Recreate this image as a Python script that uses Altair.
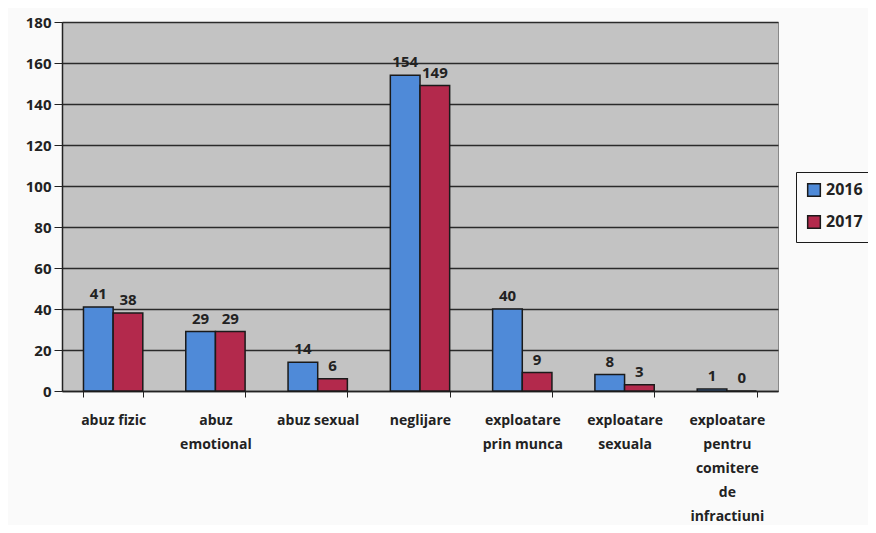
import altair as alt
import pandas as pd

categories = ["abuz fizic", "abuz|emotional", "abuz sexual", "neglijare",
              "exploatare|prin munca", "exploatare|sexuala",
              "exploatare|pentru|comitere|de|infractiuni"]
years = ["2016", "2017"]
values_2016 = [41, 29, 14, 154, 40, 8, 1]
values_2017 = [38, 29, 6, 149, 9, 3, 0]
y_ticks = [0, 20, 40, 60, 80, 100, 120, 140, 160, 180]

rows = []
for c, a, b in zip(categories, values_2016, values_2017):
    rows.append({"cat": c, "year": "2016", "value": a})
    rows.append({"cat": c, "year": "2017", "value": b})
df = pd.DataFrame(rows)

font = "Open Sans"

base = alt.Chart(df).encode(
    x=alt.X("cat:N", sort=categories, title=None,
            scale=alt.Scale(paddingInner=0.42, paddingOuter=0.21),
            axis=alt.Axis(labelAngle=0, labelExpr="split(datum.label, '|')",
                          labelFont=font, labelFontWeight="bold", labelFontSize=14,
                          labelColor="#222", labelPadding=16, labelLineHeight=24,
                          tickBand="extent", tickColor="#222", tickSize=6,
                          domainColor="#222", domainWidth=1.5, grid=False)),
    xOffset=alt.XOffset("year:N", sort=years),
)

bars = base.mark_bar(stroke="#1a1a1a", strokeWidth=1.5).encode(
    y=alt.Y("value:Q", title=None,
            scale=alt.Scale(domain=[0, 180], nice=False),
            axis=alt.Axis(values=y_ticks, labelFont=font, labelFontWeight="bold",
                          labelFontSize=15, labelColor="#222", tickColor="#222",
                          tickSize=8, domainColor="#222", domainWidth=1.5,
                          gridColor="#2a2a2a", gridWidth=1.5, labelPadding=3)),
    color=alt.Color("year:N", sort=years,
                    scale=alt.Scale(domain=years, range=["#4f8ad8", "#b3294c"]),
                    legend=alt.Legend(title=None, orient="none", legendX=734, legendY=150,
                                      symbolType="square", symbolSize=160,
                                      symbolStrokeColor="#1a1a1a", symbolStrokeWidth=1.5,
                                      labelFont=font, labelFontWeight="bold",
                                      labelFontSize=16, labelColor="#222",
                                      strokeColor="#1a1a1a", padding=10, rowPadding=12,
                                      fillColor="#fafafa")),
)

labels = base.mark_text(dy=-13, font=font, fontWeight="bold", fontSize=15,
                        color="#222").encode(
    y=alt.Y("value:Q"),
    text=alt.Text("value:Q"),
)

chart = (bars + labels).properties(
    width=716, height=369,
    autosize=alt.AutoSizeParams(type="none"),
    padding={"left": 54, "top": 14, "right": 90, "bottom": 134},
    background="#fafafa",
).configure_view(fill="#c3c3c3", stroke="#888", strokeWidth=1)

chart.save("out.html", embed_options={"renderer": "svg", "actions": False})
